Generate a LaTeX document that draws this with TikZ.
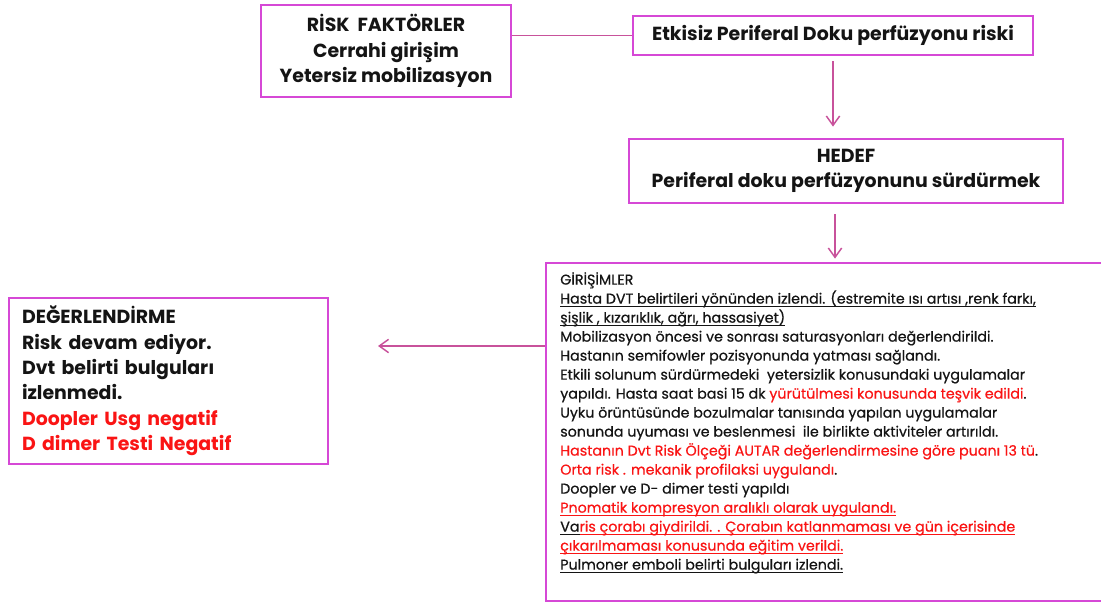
\documentclass[tikz,border=0pt]{standalone}
\usepackage{fontspec}
\setmainfont{Poppins}
\newfontfamily\gbody{Poppins}[FakeBold=0.6]
\usetikzlibrary{arrows.meta}
\definecolor{boxc}{RGB}{214,72,214}
\definecolor{linec}{RGB}{200,82,155}
\definecolor{txtred}{RGB}{250,20,20}
\definecolor{txt}{RGB}{20,20,20}
\newsavebox\ulbox
\newcommand{\ul}[1]{\sbox\ulbox{#1}\rlap{\rule[-2.4pt]{\wd\ulbox}{0.65pt}}\usebox\ulbox}
\newcommand{\rd}[1]{{\color{txtred}#1}}
\newcommand{\rul}[1]{{\color{txtred}\ul{#1}}}
\begin{document}
\begin{tikzpicture}[x=0.75pt,y=-0.75pt,
  box/.style={draw=boxc, line width=2.1pt, fill=white, inner sep=0pt, text=txt},
  head/.style={font=\bfseries\fontsize{14.2}{19.1}\selectfont, align=center},
  body/.style={font=\gbody\fontsize{10.7}{14.25}\selectfont, align=left, text=txt},
  conn/.style={draw=linec, line width=1.1pt},
  arr/.style={conn, -{Straight Barb[length=7pt,width=10pt,line width=1.1pt]}}
]
\useasboundingbox (0,0) rectangle (1101,606);

\node[box, head, minimum width=187.5pt, minimum height=69pt] (risk) at (386,51)
  {RİSK\ \ FAKTÖRLER\\Cerrahi girişim\\Yetersiz mobilizasyon};
\node[box, head, minimum width=300pt, minimum height=29.25pt] (etk) at (833,35.5)
  {Etkisiz Periferal Doku perfüzyonu riski};
\node[box, head, minimum width=325.5pt, minimum height=48pt] (hedef) at (846,171)
  {HEDEF\\Periferal doku perfüzyonunu sürdürmek};
\node[box, minimum width=433.5pt, minimum height=253.5pt] (gir) at (835,432) {};
\node[box, head, align=left, text width=219.75pt, inner xsep=9.75pt, minimum height=124.5pt] (deg) at (168.5,381)
  {DEĞERLENDİRME\\Risk devam ediyor.\\Dvt belirti bulguları\\izlenmedi.\\
   \rd{Doopler Usg negatif}\\\rd{D dimer Testi Negatif}};

\node[body, anchor=north west, inner sep=0pt] (girtext) at (560,272)
  {GİRİŞİMLER\\
   \ul{Hasta DVT belirtileri yönünden izlendi. (estremite ısı artısı ,renk farkı,}\\
   \ul{şişlik , kızarıklık, ağrı, hassasiyet)}\\
   Mobilizasyon öncesi ve sonrası saturasyonları değerlendirildi.\\
   Hastanın semifowler pozisyonunda yatması sağlandı.\\
   Etkili solunum sürdürmedeki\ \ yetersizlik konusundaki uygulamalar\\
   yapıldı. Hasta saat basi 15 dk \rd{yürütülmesi konusunda teşvik edildi}.\\
   Uyku örüntüsünde bozulmalar tanısında yapılan uygulamalar\\
   sonunda uyuması ve beslenmesi\ \ ile birlikte aktiviteler artırıldı.\\
   \rd{Hastanın Dvt Risk Ölçeği AUTAR değerlendirmesine göre puanı 13 tü}.\\
   \rd{Orta risk . mekanik profilaksi uygulandı}.\\
   Doopler ve D- dimer testi yapıldı\\
   \rul{Pnomatik kompresyon aralıklı olarak uygulandı.}\\
   \ul{Va}\rul{ris çorabı giydirildi. . Çorabın katlanmaması ve gün içerisinde}\\
   \rul{çıkarılmaması konusunda eğitim verildi.}\\
   \ul{Pulmoner emboli belirti bulguları izlendi.}};

\draw[conn] (risk.east |- etk.west) -- (etk.west);
\draw[arr, shorten <=3.75pt, shorten >=8.25pt] (etk.south) -- (etk.south |- hedef.north);
\draw[arr, shorten <=7.5pt, shorten >=2.25pt] (hedef.south -| gir.north) -- (gir.north);
\coordinate (tip) at (378,346);
\draw[arr] (gir.west |- tip) -- (tip);
\end{tikzpicture}
\end{document}
